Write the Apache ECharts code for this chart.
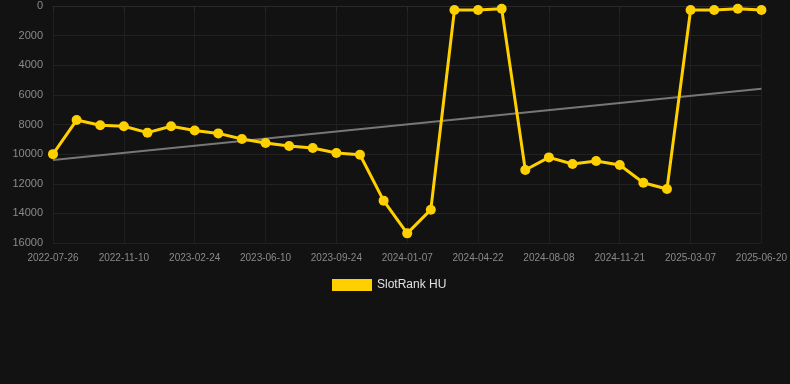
<!DOCTYPE html>
<html>
<head>
<meta charset="utf-8">
<script src="https://cdn.jsdelivr.net/npm/echarts@6/dist/echarts.min.js"></script>
<style>
html,body{margin:0;padding:0;background:#121212;}
#chart{width:790px;height:384px;}
</style>
</head>
<body>
<div id="chart"></div>
<script>
var categories = [
  '2022-07-26','2022-08-31','2022-10-05','2022-11-10','2022-12-15','2023-01-19',
  '2023-02-24','2023-03-31','2023-05-06','2023-06-10','2023-07-16','2023-08-19',
  '2023-09-24','2023-10-29','2023-12-03','2024-01-07','2024-02-12','2024-03-17',
  '2024-04-22','2024-05-27','2024-07-03','2024-08-08','2024-09-12','2024-10-17',
  '2024-11-21','2024-12-26','2025-01-30','2025-03-07','2025-04-11','2025-05-16',
  '2025-06-20'
];
var rankValues = [
  10000, 7700, 8050, 8120, 8550, 8120, 8400, 8600, 8980, 9250, 9450,
  9590, 9920, 10040, 13140, 15350, 13750, 270, 270, 180, 11070,
  10220, 10670, 10460, 10730, 11930, 12350, 270, 270, 180, 270
];
var trendStart = 10400;
var trendEnd = 5580;
var seriesName = 'SlotRank HU';

var chart = echarts.init(document.getElementById('chart'), null, {renderer:'canvas'});
chart.setOption({
  backgroundColor: '#121212',
  animation: false,
  grid: {left: 53, right: 28, top: 6, bottom: 141, containLabel: false},
  legend: {
    data: [{name: seriesName, icon: 'rect'}],
    top: 274,
    left: 327,
    itemWidth: 40,
    itemHeight: 12,
    textStyle: {color: '#e0e0e0', fontSize: 12, fontFamily: 'Arial, Liberation Sans, sans-serif'}
  },
  xAxis: {
    type: 'category',
    data: categories,
    boundaryGap: false,
    axisLine: {show: true, lineStyle: {color: '#2a2a2a'}},
    axisTick: {show: true, interval: 2, lineStyle: {color: '#2a2a2a'}},
    axisLabel: {interval: 2, color: '#8a8a8a', fontSize: 10, margin: 10, fontFamily: 'Arial, Liberation Sans, sans-serif'},
    splitLine: {show: true, interval: 2, lineStyle: {color: '#1f1f1f'}}
  },
  yAxis: {
    type: 'value',
    inverse: true,
    min: 0,
    max: 16000,
    interval: 2000,
    axisLine: {show: false},
    axisTick: {show: false},
    axisLabel: {color: '#8a8a8a', fontSize: 11, margin: 10, fontFamily: 'Arial, Liberation Sans, sans-serif',
      formatter: function (v) { return String(v); }},
    splitLine: {show: true, lineStyle: {color: '#222222'}}
  },
  series: [
    {
      name: seriesName,
      type: 'line',
      data: rankValues,
      color: '#FFD000',
      lineStyle: {width: 3, color: '#FFD000'},
      itemStyle: {color: '#FFD000'},
      symbol: 'circle',
      symbolSize: 10,
      z: 3
    },
    {
      name: 'trend',
      type: 'line',
      data: [[categories[0], trendStart], [categories[categories.length-1], trendEnd]],
      symbol: 'none',
      lineStyle: {width: 2, color: '#777777'},
      color: '#777777',
      z: 2
    }
  ]
});
</script>
</body>
</html>
